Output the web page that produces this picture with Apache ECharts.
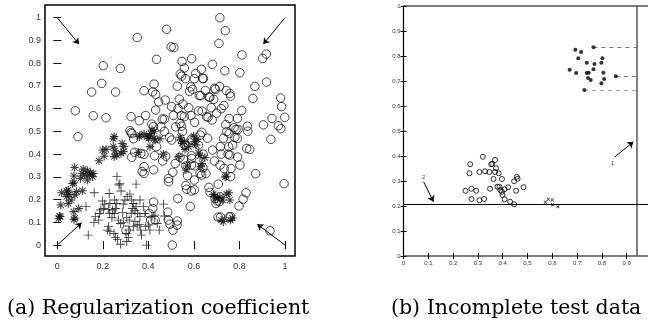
<!DOCTYPE html>
<html><head><meta charset="utf-8">
<script src="https://cdn.jsdelivr.net/npm/echarts@6/dist/echarts.min.js"></script>
<style>html,body{margin:0;padding:0;background:#fff}#c{width:648px;height:325px}</style>
</head><body><div id="c"></div>
<script>
// ---------- Panel (a) data ----------
const xTicksA = [0, 0.2, 0.4, 0.6, 0.8, 1];
const yTicksA = [0, 0.1, 0.2, 0.3, 0.4, 0.5, 0.6, 0.7, 0.8, 0.9, 1];
const circlesA = [
[0.714,1.0],[0.738,0.943],[0.710,0.887],[0.480,0.949],[0.351,0.913],[0.500,0.872],[0.512,0.869],[0.811,0.836],[0.918,0.840],[0.902,0.821],
[0.436,0.817],[0.548,0.808],[0.590,0.820],[0.202,0.789],[0.277,0.777],[0.681,0.795],[0.558,0.779],[0.540,0.752],[0.546,0.743],[0.608,0.755],
[0.633,0.773],[0.736,0.767],[0.802,0.758],[0.563,0.732],[0.602,0.732],[0.638,0.733],[0.642,0.732],[0.195,0.711],[0.425,0.708],[0.919,0.717],
[0.151,0.673],[0.256,0.673],[0.381,0.679],[0.527,0.699],[0.587,0.696],[0.691,0.690],[0.694,0.685],[0.713,0.697],[0.868,0.698],[0.419,0.674],
[0.432,0.663],[0.742,0.680],[0.758,0.667],[0.761,0.655],[0.581,0.676],[0.594,0.685],[0.624,0.658],[0.630,0.657],[0.666,0.652],[0.670,0.650],
[0.536,0.642],[0.859,0.645],[0.687,0.641],[0.981,0.647],[0.474,0.638],[0.445,0.630],[0.552,0.620],[0.732,0.614],[0.079,0.591],[0.502,0.609],
[0.577,0.604],[0.810,0.592],[0.676,0.604],[0.636,0.589],[0.432,0.594],[0.985,0.609],[0.158,0.569],[0.214,0.560],[0.324,0.565],[0.360,0.547],
[0.388,0.570],[0.461,0.554],[0.470,0.554],[0.510,0.570],[0.545,0.570],[0.558,0.565],[0.587,0.570],[0.656,0.565],[0.662,0.562],[0.755,0.557],
[0.791,0.557],[0.943,0.557],[0.999,0.562],[0.539,0.535],[0.546,0.523],[0.603,0.540],[0.415,0.532],[0.422,0.521],[0.835,0.523],[0.776,0.516],
[0.785,0.509],[0.794,0.509],[0.905,0.529],[0.971,0.525],[0.982,0.512],[0.091,0.477],[0.319,0.503],[0.324,0.495],[0.328,0.490],[0.635,0.496],
[0.628,0.484],[0.744,0.499],[0.755,0.491],[0.837,0.501],[0.780,0.474],[0.791,0.469],[0.335,0.468],[0.493,0.474],[0.502,0.462],[0.938,0.465],
[0.589,0.466],[0.594,0.459],[0.716,0.433],[0.753,0.433],[0.832,0.425],[0.845,0.421],[0.340,0.408],[0.367,0.403],[0.381,0.399],[0.436,0.433],
[0.427,0.393],[0.327,0.386],[0.682,0.418],[0.750,0.400],[0.758,0.396],[0.792,0.387],[0.589,0.393],[0.590,0.381],[0.555,0.377],[0.463,0.370],
[0.539,0.386],[0.518,0.359],[0.381,0.345],[0.373,0.323],[0.381,0.315],[0.423,0.331],[0.565,0.348],[0.589,0.352],[0.602,0.349],[0.715,0.352],
[0.802,0.352],[0.871,0.314],[0.733,0.337],[0.763,0.337],[0.627,0.315],[0.634,0.308],[0.653,0.315],[0.572,0.305],[0.761,0.301],[0.602,0.286],
[0.507,0.320],[0.489,0.293],[0.489,0.279],[0.707,0.268],[0.666,0.254],[0.565,0.262],[0.568,0.246],[0.589,0.238],[0.602,0.243],[0.671,0.232],
[0.829,0.230],[0.529,0.205],[0.693,0.205],[0.703,0.194],[0.713,0.191],[0.697,0.183],[0.714,0.213],[0.816,0.202],[0.798,0.172],[0.423,0.189],
[0.419,0.161],[0.485,0.145],[0.488,0.110],[0.584,0.170],[0.527,0.106],[0.706,0.123],[0.717,0.123],[0.755,0.123],[0.761,0.125],[0.404,0.139],
[0.410,0.110],[0.495,0.092],[0.508,0.066],[0.526,0.088],[0.302,0.066],[0.505,0.0],[0.934,0.063],[0.430,0.110],[0.996,0.270],[0.476,0.391],
[0.455,0.520],[0.470,0.500],[0.620,0.440],[0.640,0.400],[0.660,0.470],[0.680,0.550],[0.700,0.580],[0.620,0.590],[0.560,0.440],[0.550,0.500],
[0.520,0.520],[0.530,0.600],[0.650,0.680],[0.720,0.600],[0.740,0.530],[0.730,0.470],[0.690,0.370],[0.720,0.400],[0.640,0.340],[0.770,0.440]
];
const starsA = [
[0.013,0.125],[0.006,0.117],[0.010,0.128],[0.015,0.176],[0.019,0.230],[0.041,0.238],[0.048,0.242],[0.041,0.213],[0.051,0.223],[0.048,0.183],
[0.061,0.198],[0.077,0.220],[0.085,0.235],[0.076,0.342],[0.073,0.304],[0.067,0.271],[0.073,0.274],[0.111,0.239],[0.072,0.147],[0.094,0.161],
[0.073,0.113],[0.078,0.119],[0.102,0.293],[0.108,0.315],[0.114,0.334],[0.122,0.308],[0.132,0.327],[0.141,0.308],[0.146,0.318],[0.132,0.286],
[0.158,0.315],[0.155,0.301],[0.183,0.371],[0.199,0.418],[0.214,0.421],[0.206,0.391],[0.246,0.433],[0.253,0.415],[0.250,0.389],[0.261,0.396],
[0.280,0.403],[0.290,0.411],[0.293,0.433],[0.285,0.447],[0.246,0.468],[0.250,0.477],[0.356,0.408],[0.363,0.484],[0.381,0.488],[0.360,0.477],
[0.404,0.479],[0.411,0.491],[0.407,0.433],[0.416,0.506],[0.426,0.501],[0.425,0.469],[0.430,0.462],[0.451,0.468],[0.466,0.400],[0.395,0.477],
[0.401,0.470],[0.539,0.474],[0.543,0.462],[0.558,0.455],[0.548,0.447],[0.533,0.389],[0.561,0.421],[0.577,0.433],[0.599,0.480],[0.613,0.466],
[0.610,0.441],[0.602,0.455],[0.565,0.330],[0.570,0.348],[0.635,0.359],[0.631,0.345],[0.743,0.303],[0.737,0.299],[0.685,0.223],[0.691,0.213],
[0.703,0.205],[0.714,0.210],[0.726,0.198],[0.744,0.224],[0.754,0.230],[0.758,0.198],[0.720,0.110],[0.729,0.103],[0.761,0.110],[0.769,0.119],
[0.621,0.405],[0.627,0.393],[0.648,0.385]
];
const plusA = [
[0.262,0.301],[0.271,0.264],[0.275,0.270],[0.346,0.268],[0.280,0.238],[0.162,0.230],[0.126,0.169],[0.136,0.044],[0.167,0.125],[0.182,0.110],
[0.161,0.100],[0.198,0.194],[0.202,0.161],[0.208,0.180],[0.228,0.227],[0.231,0.183],[0.224,0.157],[0.243,0.154],[0.250,0.139],[0.256,0.161],
[0.220,0.066],[0.231,0.059],[0.225,0.081],[0.249,0.051],[0.255,0.034],[0.264,0.025],[0.278,0.004],[0.305,0.016],[0.312,0.034],[0.302,0.051],
[0.314,0.066],[0.305,0.122],[0.316,0.110],[0.287,0.144],[0.268,0.110],[0.278,0.095],[0.307,0.213],[0.319,0.224],[0.327,0.198],[0.334,0.183],
[0.346,0.169],[0.331,0.161],[0.341,0.151],[0.353,0.139],[0.363,0.125],[0.341,0.103],[0.351,0.088],[0.334,0.081],[0.366,0.066],[0.370,0.044],
[0.392,0.0],[0.388,0.081],[0.400,0.088],[0.407,0.066],[0.378,0.169],[0.385,0.139],[0.416,0.125],[0.429,0.132],[0.439,0.095],[0.448,0.066],
[0.466,0.180],[0.470,0.128],[0.363,0.198],[0.290,0.180],[0.297,0.198],[0.252,0.198],[0.261,0.183],[0.191,0.154],[0.185,0.139],[0.230,0.140],
[0.240,0.120],[0.290,0.100],[0.325,0.140],[0.360,0.090]
];
const arrowsA = [
[[0,1],[0.095,0.884]],
[[1,1],[0.905,0.884]],
[[0,0],[0.107,0.098]],
[[1,0],[0.878,0.092]]
];

// ---------- Panel (b) data ----------
const circlesB = [
[0.320,0.397],[0.369,0.384],[0.269,0.367],[0.354,0.367],[0.358,0.369],[0.373,0.351],[0.266,0.331],[0.306,0.336],[0.329,0.339],[0.346,0.336],
[0.369,0.336],[0.384,0.331],[0.457,0.317],[0.460,0.309],[0.363,0.308],[0.397,0.308],[0.446,0.299],[0.250,0.261],[0.274,0.269],[0.293,0.261],
[0.349,0.269],[0.379,0.277],[0.387,0.277],[0.422,0.275],[0.484,0.275],[0.390,0.264],[0.397,0.257],[0.408,0.267],[0.454,0.261],[0.274,0.228],
[0.306,0.223],[0.325,0.228],[0.399,0.244],[0.408,0.227],[0.430,0.217],[0.446,0.207]
];
const crossB = [[0.572,0.215],[0.584,0.227],[0.600,0.224],[0.602,0.205],[0.622,0.197]];
const dotsB = [
[0.693,0.825],[0.716,0.816],[0.705,0.791],[0.766,0.835],[0.739,0.773],[0.770,0.768],[0.802,0.791],[0.798,0.773],[0.670,0.745],[0.696,0.732],
[0.739,0.732],[0.747,0.733],[0.766,0.747],[0.806,0.733],[0.744,0.712],[0.755,0.704],[0.798,0.691],[0.809,0.708],[0.856,0.719],[0.729,0.664]
];
const verticalB = [[[0.94,0],[0.94,1]]];
const horizontalB = [[[0,0.207],[1,0.207]]];
const dashedDarkB = [[[0.766,0.835],[0.94,0.835]],[[0.856,0.719],[0.94,0.719]]];
const dashedLightB = [[[0.729,0.664],[0.94,0.664]]];
const arrowsB = [[[0.853,0.397],[0.927,0.457]],[[0.081,0.297],[0.121,0.217]]];
const labelsB = [[0.843,0.372,'1'],[0.081,0.314,'2']];

const captions = ['(a) Regularization coefficient', '(b) Incomplete test data'];

// ---------- symbols ----------
const plusPath = 'path://M4.5,0H5.5V4.5H10V5.5H5.5V10H4.5V5.5H0V4.5H4.5Z';
const starPath = 'path://M0,4.35H10V5.65H0Z M4.35,0H5.65V10H4.35Z M1.8,1L9,8.2L8.2,9L1,1.8Z M8.2,1L9,1.8L1.8,9L1,8.2Z';
const xPath = 'path://M1.6,0L10,8.4L8.4,10L0,1.6Z M8.4,0L10,1.6L1.6,10L0,8.4Z';

const chart = echarts.init(document.getElementById('c'), null, {renderer:'canvas'});
const tickFontA = {fontSize:9, color:'#333', fontFamily:'Liberation Sans'};
const tickFontB = {fontSize:6, color:'#333', fontFamily:'Liberation Sans'};
const captionFont = {fontFamily:'DejaVu Serif', fontSize:20.5, fontWeight:'normal', color:'#000'};

function linesSeries(data, xi, yi, style, arrow){
  return {type:'lines', coordinateSystem:'cartesian2d', xAxisIndex:xi, yAxisIndex:yi,
    symbol: arrow ? ['none','arrow'] : ['none','none'], symbolSize: arrow ? 6 : 0,
    lineStyle: Object.assign({opacity:1, curveness:0}, style), silent:true, z:3,
    data: data.map(c => ({coords:c}))};
}

chart.setOption({
  animation:false,
  backgroundColor:'#fff',
  title: [
    {text:captions[0], left:7, top:298, padding:0, textStyle:captionFont},
    {text:captions[1], left:391, top:298, padding:0, textStyle:captionFont}
  ],
  grid: [
    {left:45, top:5, width:250, height:251, show:true, borderColor:'#000', borderWidth:1.5, backgroundColor:'transparent', containLabel:false, outerBoundsMode:'none'},
    {left:403.5, top:6, width:248, height:250, show:true, borderColor:'#000', borderWidth:1.2, backgroundColor:'transparent', containLabel:false, outerBoundsMode:'none'}
  ],
  xAxis: [
    {gridIndex:0, type:'value', min:-0.054, max:1.044, axisLine:{show:false}, splitLine:{show:false},
      axisTick:{inside:true, length:4, customValues:xTicksA, lineStyle:{color:'#000'}},
      axisLabel:Object.assign({customValues:xTicksA, margin:6}, tickFontA)},
    {gridIndex:0, type:'value', position:'top', min:-0.054, max:1.044, axisLine:{show:false}, splitLine:{show:false},
      axisTick:{inside:true, length:4, customValues:xTicksA, lineStyle:{color:'#000'}}, axisLabel:{show:false}},
    {gridIndex:1, type:'value', min:0, max:1, interval:0.1, axisLine:{show:false}, splitLine:{show:false},
      axisTick:{inside:true, length:3, lineStyle:{color:'#000'}}, axisLabel:Object.assign({margin:4}, tickFontB)},
    {gridIndex:1, type:'value', position:'top', min:0, max:1, interval:0.1, axisLine:{show:false}, splitLine:{show:false},
      axisTick:{inside:true, length:3, lineStyle:{color:'#000'}}, axisLabel:{show:false}}
  ],
  yAxis: [
    {gridIndex:0, type:'value', min:-0.048, max:1.056, axisLine:{show:false}, splitLine:{show:false},
      axisTick:{inside:true, length:4, customValues:yTicksA, lineStyle:{color:'#000'}},
      axisLabel:Object.assign({customValues:yTicksA, margin:4}, tickFontA)},
    {gridIndex:0, type:'value', position:'right', min:-0.048, max:1.056, axisLine:{show:false}, splitLine:{show:false},
      axisTick:{inside:true, length:4, customValues:yTicksA, lineStyle:{color:'#000'}}, axisLabel:{show:false}},
    {gridIndex:1, type:'value', min:0, max:1, interval:0.1, axisLine:{show:false}, splitLine:{show:false},
      axisTick:{inside:true, length:3, lineStyle:{color:'#000'}}, axisLabel:Object.assign({margin:3}, tickFontB)},
    {gridIndex:1, type:'value', position:'right', min:0, max:1, interval:0.1, axisLine:{show:false}, splitLine:{show:false},
      axisTick:{inside:true, length:3, lineStyle:{color:'#000'}}, axisLabel:{show:false}}
  ],
  series: [
    {type:'scatter', xAxisIndex:0, yAxisIndex:0, data:circlesA, symbol:'circle', symbolSize:8.5,
      itemStyle:{color:'rgba(0,0,0,0)', borderColor:'#000', borderWidth:0.9}, silent:true},
    {type:'scatter', xAxisIndex:0, yAxisIndex:0, data:starsA, symbol:starPath, symbolSize:8.5,
      itemStyle:{color:'#111'}, silent:true},
    {type:'scatter', xAxisIndex:0, yAxisIndex:0, data:plusA, symbol:plusPath, symbolSize:9,
      itemStyle:{color:'#111'}, silent:true},
    linesSeries(arrowsA, 0, 0, {color:'#000', width:1}, true),

    linesSeries(verticalB, 2, 2, {color:'#555', width:1.5}, false),
    linesSeries(horizontalB, 2, 2, {color:'#000', width:1}, false),
    linesSeries(dashedDarkB, 2, 2, {color:'#777', width:1, type:[4,4]}, false),
    linesSeries(dashedLightB, 2, 2, {color:'#aaa', width:1.2, type:[4,4]}, false),
    linesSeries(arrowsB, 2, 2, {color:'#000', width:1}, true),
    {type:'scatter', xAxisIndex:2, yAxisIndex:2, data:circlesB, symbol:'circle', symbolSize:5,
      itemStyle:{color:'rgba(0,0,0,0)', borderColor:'#000', borderWidth:1}, silent:true},
    {type:'scatter', xAxisIndex:2, yAxisIndex:2, data:crossB, symbol:xPath, symbolSize:3.5,
      itemStyle:{color:'#000'}, silent:true},
    {type:'scatter', xAxisIndex:2, yAxisIndex:2, data:dotsB, symbol:'circle', symbolSize:4,
      itemStyle:{color:'#000'}, silent:true, z:4},
    {type:'scatter', xAxisIndex:2, yAxisIndex:2, data:labelsB, symbolSize:0, silent:true,
      label:{show:true, position:'inside', formatter:p => p.data[2], fontSize:6, color:'#000', fontFamily:'Liberation Sans'}}
  ]
});
</script>
</body></html>
